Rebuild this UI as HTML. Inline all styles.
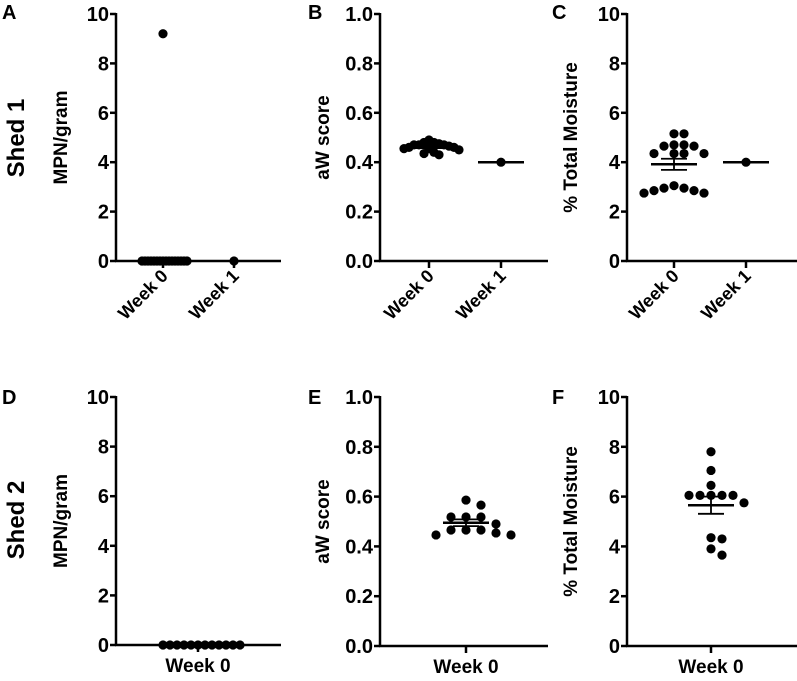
<!DOCTYPE html>
<html><head><meta charset="utf-8"><style>
body{margin:0;background:#fff}
svg{display:block;font-family:"Liberation Sans",Arial,sans-serif;font-weight:bold}
text{font-weight:bold}
</style></head><body>
<svg id="fig" width="797" height="681" viewBox="0 0 797 681">
<text x="2" y="19" font-size="20" font-weight="bold">A</text>
<text x="308" y="19" font-size="20" font-weight="bold">B</text>
<text x="552" y="19" font-size="20" font-weight="bold">C</text>
<text x="2" y="404" font-size="20" font-weight="bold">D</text>
<text x="308" y="404" font-size="20" font-weight="bold">E</text>
<text x="552" y="404" font-size="20" font-weight="bold">F</text>
<text transform="translate(24,138) rotate(-90)" text-anchor="middle" font-size="24" font-weight="bold">Shed 1</text>
<text transform="translate(24,520) rotate(-90)" text-anchor="middle" font-size="24" font-weight="bold">Shed 2</text>
</svg>
<script>
const aW0=[9.2,0,0,0,0,0,0,0,0,0,0,0,0,0,0,0,0];
const aW1=[0];
const bW0=[0.48,0.48,0.475,0.47,0.47,0.465,0.46,0.46,0.455,0.455,0.45,0.44,0.435,0.43,0.49,0.47];
const bW1=[0.40];
const cW0=[5.15,5.15,4.7,4.65,4.7,4.65,4.35,4.35,4.35,4.35,3.05,2.95,2.85,2.95,2.85,2.75,2.75];
const cW1=[4.0];
const dW0=[0,0,0,0,0,0,0,0,0,0,0,0];
const eW0=[0.586,0.566,0.518,0.518,0.518,0.49,0.466,0.466,0.466,0.446,0.446,0.454];
const fW0=[7.8,7.05,6.45,6.05,6.05,6.05,6.05,6.05,5.75,4.3,4.35,3.9,3.65];
const ticks10=["0","2","4","6","8","10"];
const ticks1=["0.0","0.2","0.4","0.6","0.8","1.0"];
const NS="http://www.w3.org/2000/svg";
const svg=document.getElementById('fig');
function mk(tag,at,parent){const e=document.createElementNS(NS,tag);for(const k in at)e.setAttribute(k,at[k]);if(tag==='text')e.setAttribute('font-weight','bold');(parent||svg).appendChild(e);return e;}
function panel(p){
  const g=mk('g',{});
  
  
  const ys=v=>p.y0-(v/p.max)*(p.y0-p.y1);
  let a=mk('line',{x1:p.ax,y1:p.y1-1,x2:p.ax,y2:p.y0+1,stroke:'#000','stroke-width':2.5},g);
  
  
  a=mk('line',{x1:p.ax-1,y1:p.y0,x2:p.xend,y2:p.y0,stroke:'#000','stroke-width':2.5},g);
  
  
  p.ticks.forEach((t,i)=>{
    const v=i*p.max/5,y=ys(v);
    mk('line',{x1:p.ax-6,y1:y,x2:p.ax,y2:y,stroke:'#000','stroke-width':2.5},g);
    const tx=mk('text',{x:p.ax-7,y:y+7,'text-anchor':'end','font-size':20},g);
    tx.textContent=t;
    
    
  });
  const yt=mk('text',{transform:`translate(${p.ylx},${(p.y0+p.y1)/2}) rotate(-90)`,'text-anchor':'middle','font-size':19},g);
  yt.textContent=p.ylabel;
  
  
  p.groups.forEach((gr,gi)=>{
    const cx=p.gx[gi],y0=p.y0;
    mk('line',{x1:cx,y1:y0,x2:cx,y2:y0+7,stroke:'#000','stroke-width':2.5},g);
    let lab;
    if(p.rot){lab=mk('text',{transform:`translate(${cx+6},${y0+16}) rotate(-45)`,'text-anchor':'end','font-size':18},g);}
    else{lab=mk('text',{x:cx,y:y0+27,'text-anchor':'middle','font-size':19},g);}
    lab.textContent=gr.name;
    
    
    const vals=gr.vals, n=vals.length;
    const mean=vals.reduce((s,v)=>s+v,0)/n;
    let sem=0;
    if(n>1){const sd=Math.sqrt(vals.reduce((s,v)=>s+(v-mean)**2,0)/(n-1));sem=sd/Math.sqrt(n);}
    const placed=[];
    const sorted=vals.map((v,i)=>({v,i})).sort((a,b)=>b.v-a.v);
    sorted.forEach(o=>{
      const y=ys(o.v);let k=0,x;
      while(true){
        const off=(k===0)?0:(k%2?1:-1)*Math.ceil(k/2)*p.sp;
        x=cx+off;
        if(!placed.some(q=>Math.abs(q.y-y)<8.5&&Math.abs(q.x-x)<p.sp-0.1))break;
        k++;
      }
      placed.push({x,y});
      const c=mk('circle',{cx:x,cy:y,r:4.6,fill:'#000'},g);
      
      
    });
    if(p.noMean)return;
    const ml=mk('line',{x1:cx-23,y1:ys(mean),x2:cx+23,y2:ys(mean),stroke:'#000','stroke-width':2.5},g);
    
    
    if(sem>0){
      const e1=ys(mean+sem),e2=ys(mean-sem);
      const eb=mk('path',{d:`M${cx},${e1}V${e2}M${cx-13},${e1}H${cx+13}M${cx-13},${e2}H${cx+13}`,stroke:'#000','stroke-width':1.8,fill:'none'},g);
      
      
    }
  });
}
panel({id:'a',ax:116,y0:261,y1:14,xend:281,max:10,ticks:ticks10,ylabel:'MPN/gram',ylx:67,gx:[163,234],rot:true,sp:3,noMean:true,groups:[{name:'Week 0',vals:aW0},{name:'Week 1',vals:aW1}]});
panel({id:'b',ax:380,y0:261,y1:14,xend:548,max:1,ticks:ticks1,ylabel:'aW score',ylx:329,gx:[429,501],rot:true,sp:5,groups:[{name:'Week 0',vals:bW0},{name:'Week 1',vals:bW1}]});
panel({id:'c',ax:627,y0:261,y1:14,xend:797,max:10,ticks:ticks10,ylabel:'% Total Moisture',ylx:577,gx:[674,746],rot:true,sp:10,groups:[{name:'Week 0',vals:cW0},{name:'Week 1',vals:cW1}]});
panel({id:'d',ax:116,y0:645,y1:397,xend:281,max:10,ticks:ticks10,ylabel:'MPN/gram',ylx:67,gx:[198],rot:false,sp:7,noMean:true,groups:[{name:'Week 0',vals:dW0}]});
panel({id:'e',ax:380,y0:646,y1:397,xend:548,max:1,ticks:ticks1,ylabel:'aW score',ylx:329,gx:[466],rot:false,sp:15,groups:[{name:'Week 0',vals:eW0}]});
panel({id:'f',ax:627,y0:646,y1:397,xend:797,max:10,ticks:ticks10,ylabel:'% Total Moisture',ylx:577,gx:[711],rot:false,sp:11,groups:[{name:'Week 0',vals:fW0}]});
</script>
</body></html>
